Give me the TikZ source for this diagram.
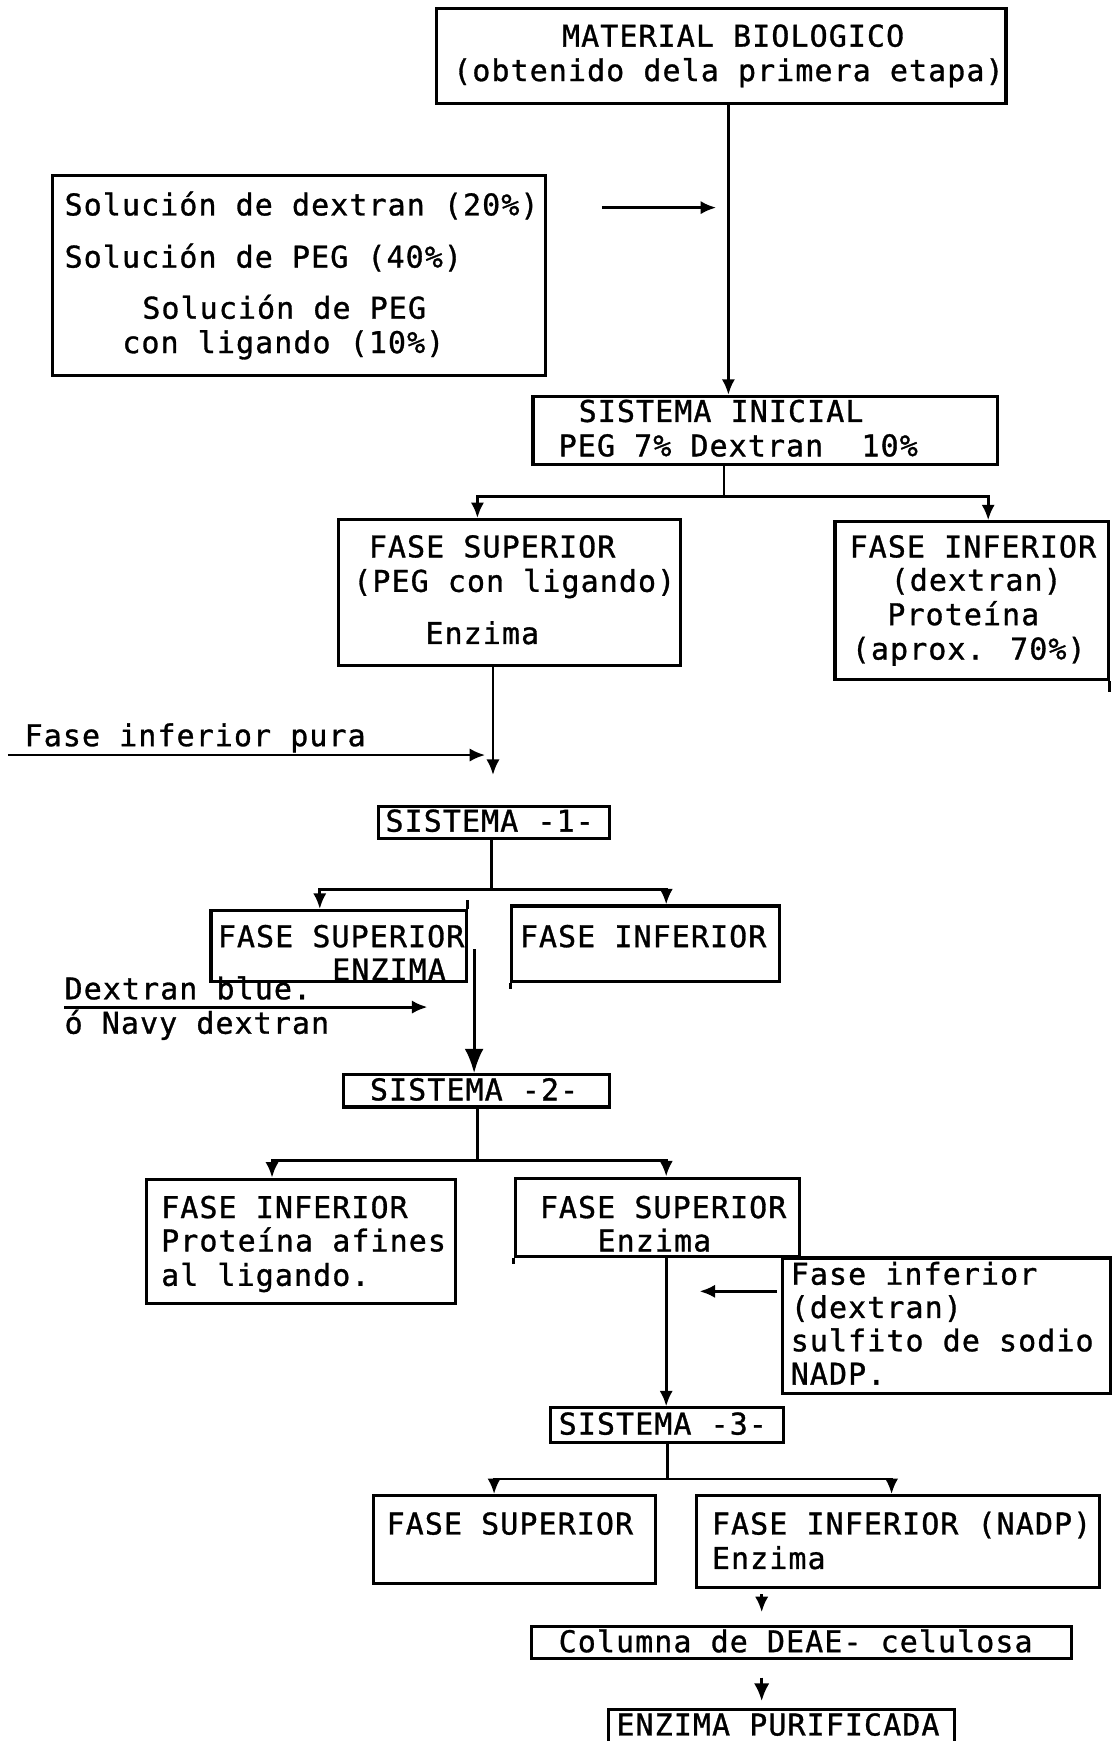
\documentclass[tikz,border=0pt]{standalone}
\usepackage{fontspec}
\newfontfamily\dotfont{DejaVu Sans Mono}[LetterSpace=3.6,FakeBold=1]
\usetikzlibrary{arrows.meta,fit}

\begin{document}
\begin{tikzpicture}[x=1pt,y=-1pt,
  box/.style={draw, line width=2.8pt, inner sep=0pt},
  edge/.style={line width=2.8pt},
  txt/.style={anchor=base west, inner sep=0pt, font=\dotfont\fontsize{27}{31}\selectfont},
  link/.style={line width=2.6pt},
  arr/.style={line width=2.6pt, -{Latex[length=14pt,width=12pt]}},
  bigarr/.style={line width=2.6pt, -{Latex[length=22pt,width=17pt]}},
]
\useasboundingbox (0,0) rectangle (1002,1568);
\clip (0,0) rectangle (1002,1568);

% ---------- boxes ----------
\node[box, fit={(393,8) (906,93)}] (mat) {};
\node[box, fit={(47,158) (491,338)}] (sol) {};
\node[box, fit={(480,357) (898,418)}] (sini) {};
\node[box, fit={(305,468) (613,599)}] (fs1) {};
\node[box, fit={(752,470) (998,612)}] (fi1) {};
\node[box, fit={(341,726) (549,755)}] (sis1) {};
\node[box, fit={(190,820) (420,884)}] (fs2) {};
\node[box, fit={(461,816) (702,884)}] (fi2) {};
\node[box, fit={(309,968) (549,997)}] (sis2) {};
\node[box, fit={(132,1062) (410,1174)}] (fi3) {};
\node[box, fit={(464,1061) (720,1132)}] (fs3) {};
\node[box, fit={(705,1133) (1000,1255)}] (add3) {};
\node[box, fit={(496,1268) (706,1299)}] (sis3) {};
\node[box, fit={(336,1347) (590,1426)}] (fs4) {};
\node[box, fit={(627,1347) (990,1430)}] (fi4) {};
\node[box, fit={(479,1465) (965,1494)}] (col) {};
\node[box, fit={(548,1540) (860,1600)}] (enz) {};

% overhanging box edges
\draw[edge] (fi1.south east) -- ++(0,10);
\draw[edge] (fs2.north east) -- ++(0,-8);
\draw[edge] (fi2.south west) -- ++(0,5);
\draw[edge] (fs3.south west) -- ++(0,5);

% ---------- texts ----------
\node[txt] (t1) at (506,42) {MATERIAL BIOLOGICO};
\node[txt] (t2) at (408,73) {(obtenido dela primera etapa)};
\node[txt] (t3) at (58,194) {Solución de dextran (20\%)};
\node[txt] (t4) at (58,241) {Solución de PEG (40\%)};
\node[txt] (t5) at (128,287) {Solución de PEG};
\node[txt] (t6) at (110,318) {con ligando (10\%)};
\node[txt] (t7) at (521,380) {SISTEMA INICIAL};
\node[txt] (t8) at (503,411) {PEG 7\% Dextran\ \ 10\%};
\node[txt] (t9) at (332,502) {FASE SUPERIOR};
\node[txt] (t10) at (318,533) {(PEG con ligando)};
\node[txt] (t11) at (383,580) {Enzima};
\node[txt] (t12) at (765,502) {FASE INFERIOR};
\node[txt] (t13) at (802,532) {(dextran)};
\node[txt] (t14) at (799,563) {Proteína};
\node[txt] (t15) at (767,594) {(aprox. 70\%)};
\node[txt] (t16) at (22,672) {Fase inferior pura};
\node[txt] (t17) at (347,749) {SISTEMA -1-};
\node[txt] (t18) at (196,853) {FASE SUPERIOR};
\node[txt] (t19) at (299,883) {ENZIMA};
\node[txt] (t20) at (468,853) {FASE INFERIOR};
\node[txt] (t21) at (58,900) {Dextran blue.};
\node[txt] (t22) at (58,931) {ó Navy dextran};
\node[txt] (t23) at (333,991) {SISTEMA -2-};
\node[txt] (t24) at (145,1097) {FASE INFERIOR};
\node[txt] (t25) at (145,1127) {Proteína afines};
\node[txt] (t26) at (145,1158) {al ligando.};
\node[txt] (t27) at (486,1097) {FASE SUPERIOR};
\node[txt] (t28) at (538,1127) {Enzima};
\node[txt] (t29) at (712,1157) {Fase inferior};
\node[txt] (t30) at (712,1187) {(dextran)};
\node[txt] (t31) at (712,1217) {sulfito de sodio};
\node[txt] (t32) at (712,1247) {NADP.};
\node[txt] (t33) at (503,1292) {SISTEMA -3-};
\node[txt] (t34) at (348,1382) {FASE SUPERIOR};
\node[txt] (t35) at (641,1382) {FASE INFERIOR (NADP)};
\node[txt] (t36) at (641,1413) {Enzima};
\node[txt] (t37) at (503,1488) {Columna de DEAE- celulosa};
\node[txt] (t38) at (555,1563) {ENZIMA PURIFICADA};

% ---------- connectors ----------
% main feed
\draw[arr] ([xshift=6.5pt]mat.south) -- ([xshift=6.5pt]mat.south |- sini.north);
\coordinate (solA) at (542,187);
\coordinate (solB) at (645,187);
\draw[arr] (solA) -- (solB);

% split of the initial system
\coordinate (j0) at (652,447);
\coordinate (j0L) at (430,447);
\coordinate (j0R) at (890,447);
\draw[link] (sini.south -| j0) -- (j0);
\draw[arr] (j0) -- (j0L) -- (j0L |- fs1.north);
\draw[arr] (j0) -- (j0R) -- (j0R |- fi1.north);

% upper phase to system 1
\coordinate (p1) at (444,698);
\draw[arr] (p1 |- fs1.south) -- (p1);
\coordinate (q0) at (7,680);
\coordinate (q1) at (437,680);
\draw[arr] (q0) -- (q1);

% split of system 1
\coordinate (j1) at (443,801);
\coordinate (j1L) at (288,801);
\coordinate (j1R) at (600,801);
\draw[link] (sis1.south -| j1) -- (j1);
\draw[arr] (j1) -- (j1L) -- (j1L |- fs2.north);
\draw[arr] (j1) -- (j1R) -- (j1R |- fi2.north);

% upper phase to system 2
\coordinate (r0) at (427,855);
\draw[bigarr] (r0) -- (r0 |- sis2.north);
\coordinate (d0) at (58,907);
\coordinate (d1) at (385,907);
\draw[arr] (d0) -- (d1);

% split of system 2
\coordinate (j2) at (430,1045);
\coordinate (j2L) at (245,1045);
\coordinate (j2R) at (600,1045);
\draw[link] (sis2.south -| j2) -- (j2);
\draw[arr] (j2) -- (j2L) -- (j2L |- fi3.north);
\draw[arr] (j2) -- (j2R) -- (j2R |- fs3.north);

% upper phase to system 3
\draw[arr] (fs3.south -| j2R) -- (j2R |- sis3.north);
\coordinate (u0) at (700,1163);
\coordinate (u1) at (630,1163);
\draw[arr] (u0) -- (u1);

% split of system 3
\coordinate (j3) at (601,1332);
\coordinate (j3L) at (445,1332);
\coordinate (j3R) at (803,1332);
\draw[link] (sis3.south -| j3) -- (j3);
\draw[arr] (j3) -- (j3L) -- (j3L |- fs4.north);
\draw[arr] (j3) -- (j3R) -- (j3R |- fi4.north);

% final steps
\coordinate (v0) at (686,1436);
\coordinate (v1) at (686,1452);
\draw[arr] (v0) -- (v1);
\coordinate (w0) at (686,1511);
\coordinate (w1) at (686,1532);
\draw[line width=2.6pt, -{Latex[length=16pt,width=14pt]}] (w0) -- (w1);
\end{tikzpicture}
\end{document}
